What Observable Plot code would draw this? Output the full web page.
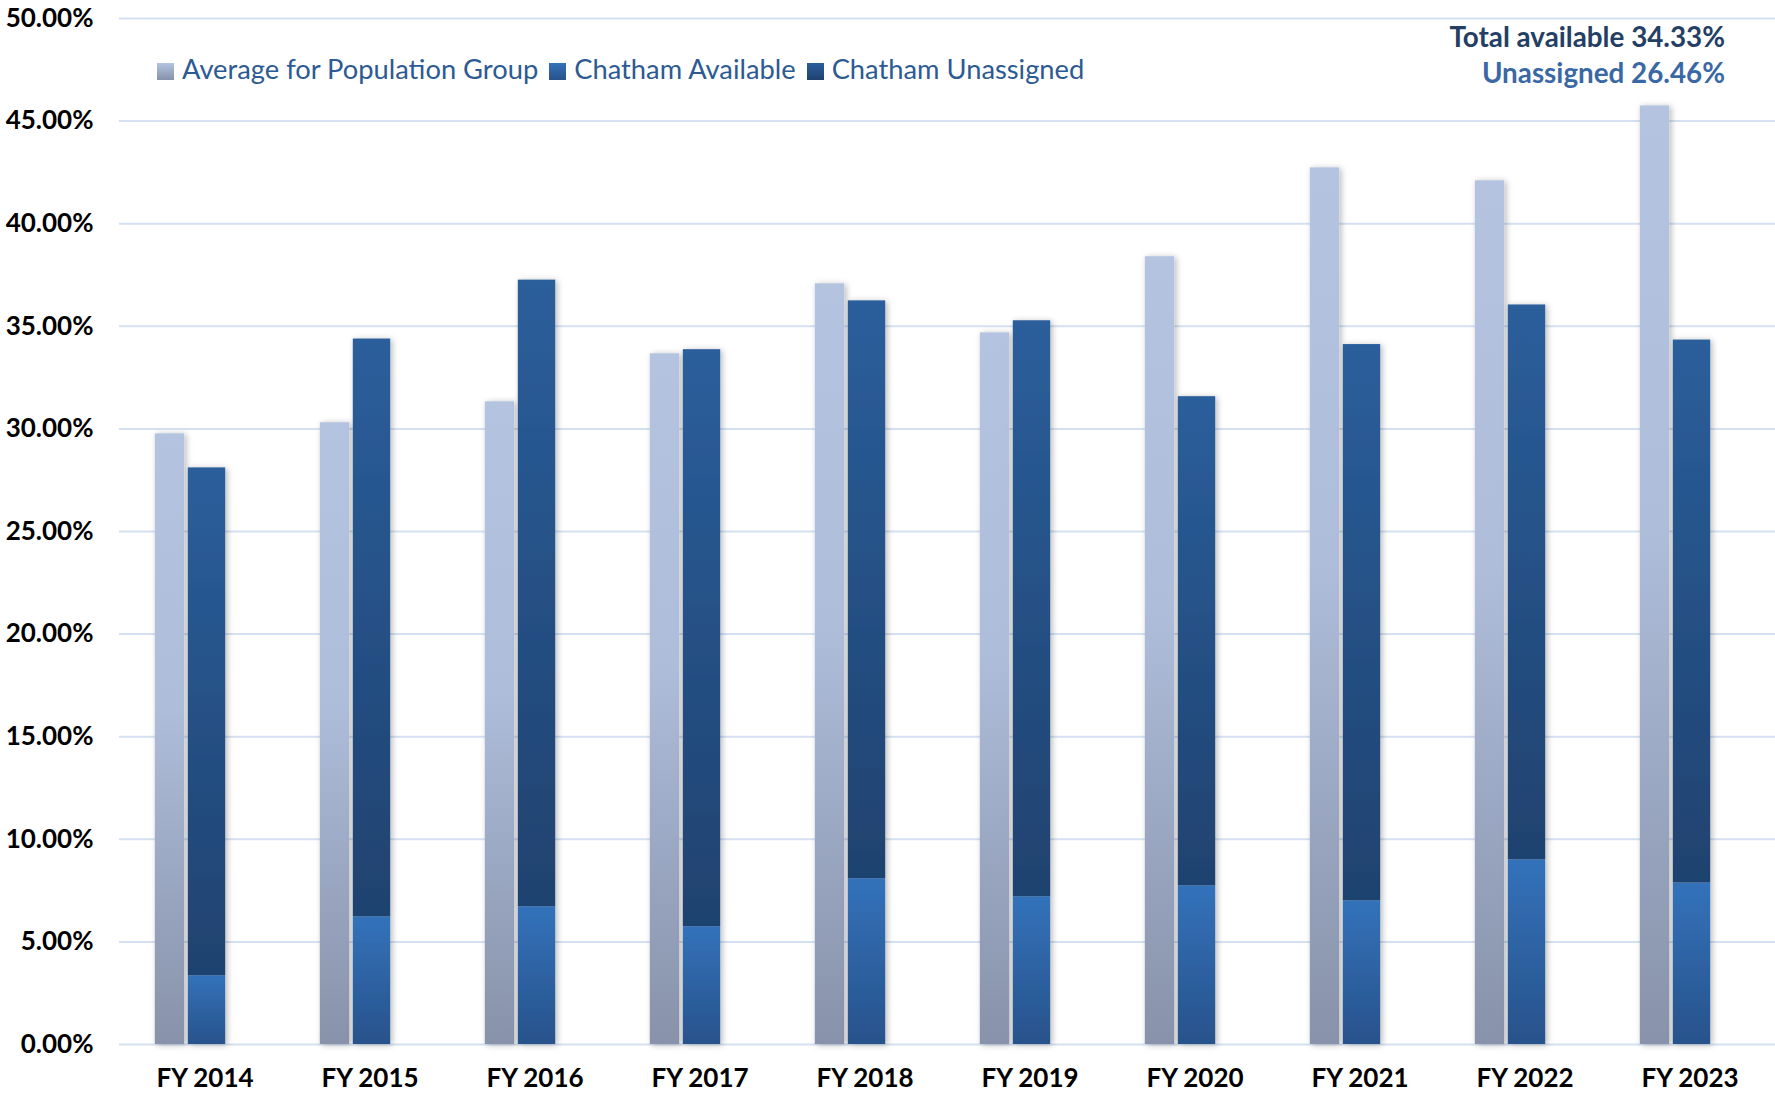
<!DOCTYPE html>
<html>
<head>
<meta charset="utf-8">
<script src="https://cdn.jsdelivr.net/npm/d3@7"></script>
<script src="https://cdn.jsdelivr.net/npm/@observablehq/plot@0.6"></script>
<style>
  body { margin: 0; background: #fff; }
  #wrap { position: relative; width: 1775px; height: 1094px; overflow: hidden; }
  .legend { position: absolute; left: 157px; top: 53px; display: flex; align-items: center;
    font-family: Lato, "Open Sans", sans-serif; font-size: 27.3px; line-height: 32px; color: #2c5a93; white-space: nowrap; }
  .item { display: flex; align-items: center; margin-right: 11px; }
  .sw { width: 17px; height: 17px; margin-right: 8px; position: relative; top: 2px; }
  .note { position: absolute; right: 50px; top: 19px; text-align: right;
    font-family: Lato, "Open Sans", sans-serif; font-weight: bold; font-size: 27.8px; line-height: 36px; white-space: nowrap; }
</style>
</head>
<body>
<div id="wrap"></div>
<script>
// ---- data ----
const years = ["FY 2014","FY 2015","FY 2016","FY 2017","FY 2018","FY 2019","FY 2020","FY 2021","FY 2022","FY 2023"];
const avgPopulationGroup = [29.76, 30.30, 31.32, 33.66, 37.07, 34.68, 38.39, 42.72, 42.09, 45.74];
const chathamAvailable   = [3.35, 6.22, 6.71, 5.74, 8.08, 7.20, 7.73, 7.00, 9.00, 7.87];
const chathamUnassigned  = [24.75, 28.16, 30.54, 28.12, 28.16, 28.07, 23.84, 27.11, 27.04, 26.46];
const yTicks = [0, 5, 10, 15, 20, 25, 30, 35, 40, 45, 50];
const seriesNames = ["Average for Population Group", "Chatham Available", "Chatham Unassigned"];
const noteLines = ["Total available 34.33%", "Unassigned 26.46%"];

// ---- tables ----
const avgRows = years.map((year, i) => ({year, value: avgPopulationGroup[i]}));
const stackRows = years.flatMap((year, i) => [
  {year, series: seriesNames[1], value: chathamAvailable[i]},
  {year, series: seriesNames[2], value: chathamUnassigned[i]}
]);

const W = 1775, H = 1094;
const mLeft = 119, mRight = 0, mTop = 18, mBottom = 50;
const step = (W - mLeft - mRight) / years.length;
const half = step / 2;

const chart = Plot.plot({
  width: W,
  height: H,
  marginLeft: mLeft,
  marginRight: mRight,
  marginTop: mTop,
  marginBottom: mBottom,
  style: {fontFamily: "Lato, 'Open Sans', sans-serif", fontSize: "26px", fontWeight: "bold", color: "#000", background: "#fff"},
  x: {type: "band", domain: years, padding: 0, label: null, tickSize: 0, tickPadding: 24},
  y: {domain: [0, 50], ticks: yTicks, tickFormat: d => d.toFixed(2) + "%", label: null, tickSize: 0, tickPadding: 26},
  color: {domain: [seriesNames[1], seriesNames[2]], range: ["url(#gAvail)", "url(#gUnas)"]},
  marks: [
    Plot.ruleY(yTicks, {stroke: "#d5e1f2", strokeWidth: 2}),
    Plot.barY(avgRows, {x: "year", y: "value", fill: "url(#gAvg)",
      insetLeft: half - 50, insetRight: half + 20}),
    Plot.barY(stackRows, {x: "year", y: "value", fill: "series",
      insetLeft: half - 17, insetRight: half - 21})
  ]
});

// gradients & shadow
const svg = d3.select(chart);
const defs = svg.insert("defs", ":first-child");
function grad(id, stops) {
  const g = defs.append("linearGradient").attr("id", id).attr("x1", 0).attr("y1", 0).attr("x2", 0).attr("y2", 1);
  stops.forEach(([o, c]) => g.append("stop").attr("offset", o).attr("stop-color", c));
}
grad("gAvg", [[0, "#b3c3e0"], [0.45, "#aebdda"], [1, "#8892aa"]]);
grad("gAvail", [[0, "#3372ba"], [1, "#28528b"]]);
grad("gUnas", [[0, "#2b5e9b"], [1, "#1f426f"]]);
const f = defs.append("filter").attr("id", "shadow").attr("x", "-30%").attr("y", "-5%").attr("width", "160%").attr("height", "110%");
f.append("feDropShadow").attr("dx", 2).attr("dy", 1).attr("stdDeviation", 3).attr("flood-color", "#000").attr("flood-opacity", 0.28);
svg.selectAll('g[aria-label="bar"]').attr("filter", "url(#shadow)");

const wrap = document.getElementById("wrap");
wrap.appendChild(chart);

// legend (overlay)
const swatches = [
  "linear-gradient(#b3c3e0, #8792aa)",
  "linear-gradient(#3372ba, #28528b)",
  "linear-gradient(#2b5e9b, #1f426f)"
];
const legend = document.createElement("div");
legend.className = "legend";
seriesNames.forEach((name, i) => {
  const it = document.createElement("div");
  it.className = "item";
  const sw = document.createElement("span");
  sw.className = "sw";
  sw.style.background = swatches[i];
  const tx = document.createElement("span");
  tx.textContent = name;
  it.appendChild(sw); it.appendChild(tx);
  legend.appendChild(it);
});
wrap.appendChild(legend);

// annotation
const note = document.createElement("div");
note.className = "note";
const noteColors = ["#243f63", "#3a68a5"];
noteLines.forEach((t, i) => {
  const d = document.createElement("div");
  d.textContent = t;
  d.style.color = noteColors[i];
  note.appendChild(d);
});
wrap.appendChild(note);
</script>
</body>
</html>
